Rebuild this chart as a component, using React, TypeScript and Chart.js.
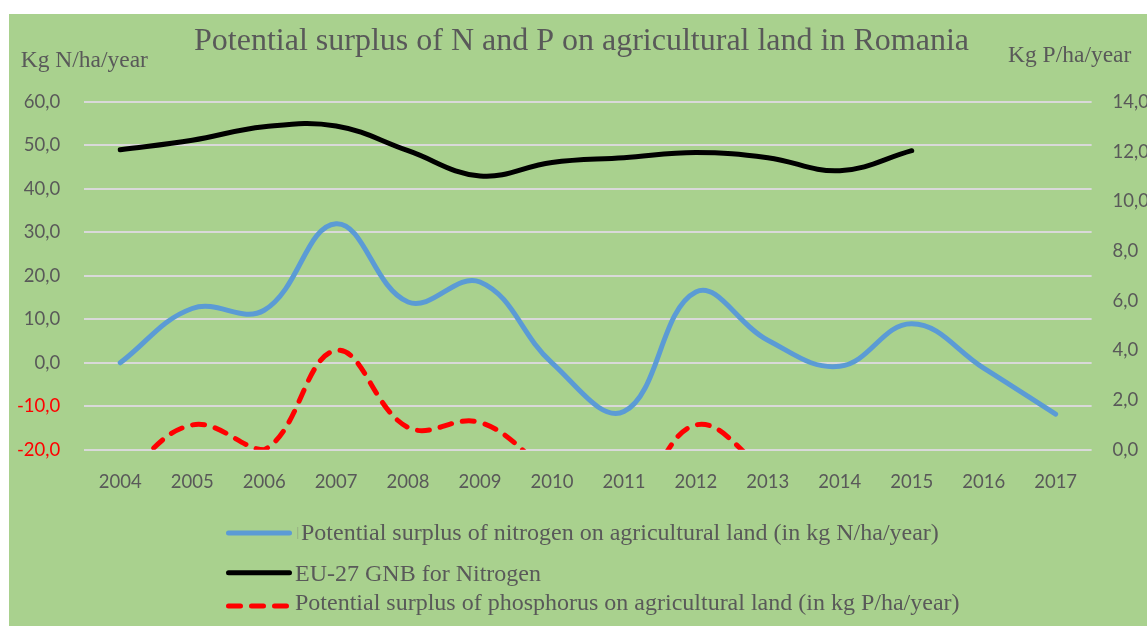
import React, { useEffect, useRef } from "react";
import { Chart, registerables } from "chart.js";

Chart.register(...registerables);

const years = ["2004", "2005", "2006", "2007", "2008", "2009", "2010", "2011", "2012", "2013", "2014", "2015", "2016", "2017"];
const nitrogenSurplus = [0, 12.5, 12.1, 32.0, 14.0, 18.6, 0, -11.2, 16.3, 5.2, -0.8, 9.0, -1.2, -11.8];
const euGnbNitrogen = [49.0, 51.2, 54.3, 54.5, 48.8, 43.0, 46.1, 47.2, 48.4, 47.2, 44.2, 48.8, null, null];
const phosphorusSurplus = [-1.2, 1.0, 0.0, 4.0, 0.9, 1.1, -0.9, -2.2, 1.0, -0.9, null, null, null, null];

const titleText = "Potential surplus of N and P on agricultural land in Romania";
const leftAxisTitle = "Kg N/ha/year";
const rightAxisTitle = "Kg P/ha/year";
const seriesNames = [
  "Potential surplus of nitrogen on agricultural land (in kg N/ha/year)",
  "EU-27 GNB for Nitrogen",
  "Potential surplus of phosphorus on agricultural land (in kg P/ha/year)",
];

const TEXT = "#595959";
const BG = "#a9d18e";
const BLUE = "#5b9bd5";
const SERIF = "'Liberation Serif', 'Times New Roman', serif";
const SANS = "Lato, 'Open Sans', sans-serif";

const fmt = (v: number | string) => Number(v).toFixed(1).replace(".", ",");

export default function App() {
  const ref = useRef<HTMLCanvasElement>(null);

  useEffect(() => {
    if (!ref.current) return;
    const chart = new Chart(ref.current, {
      type: "line",
      data: {
        labels: years,
        datasets: [
          {
            label: seriesNames[0],
            data: nitrogenSurplus,
            borderColor: BLUE,
            backgroundColor: BLUE,
            borderWidth: 5,
            tension: 0.4,
            pointRadius: 0,
            borderCapStyle: "round",
            borderJoinStyle: "round",
            yAxisID: "yN",
            clip: 0,
          },
          {
            label: seriesNames[1],
            data: euGnbNitrogen,
            borderColor: "#000000",
            backgroundColor: "#000000",
            borderWidth: 5,
            tension: 0.4,
            pointRadius: 0,
            borderCapStyle: "round",
            borderJoinStyle: "round",
            yAxisID: "yN",
            clip: 0,
          },
          {
            label: seriesNames[2],
            data: phosphorusSurplus,
            borderColor: "#ff0000",
            backgroundColor: "#ff0000",
            borderWidth: 5,
            borderDash: [12, 11],
            tension: 0.4,
            pointRadius: 0,
            borderCapStyle: "round",
            borderJoinStyle: "round",
            yAxisID: "yP",
            clip: 0,
          },
        ],
      } as any,
      options: {
        animation: false,
        responsive: true,
        maintainAspectRatio: false,
        layout: { padding: { left: 0, right: 0, top: 0, bottom: 112 } },
        plugins: {
          legend: { display: false },
          tooltip: { enabled: false },
          title: {
            display: true,
            text: titleText,
            color: TEXT,
            font: { family: SERIF, size: 32, weight: "normal" as any },
            padding: { top: 8, bottom: 41.6 },
          },
        },
        scales: {
          x: {
            offset: true,
            grid: { display: false, drawTicks: false },
            border: { display: false },
            ticks: { color: TEXT, font: { family: SANS, size: 18.5 }, padding: 21 },
          },
          yN: {
            position: "left",
            min: -20,
            max: 60,
            ticks: {
              stepSize: 10,
              padding: 8,
              color: (c: any) => (c.tick && c.tick.value < 0 ? "#ff0000" : TEXT),
              callback: (v: any) => fmt(v),
              font: { family: SANS, size: 18.5 },
            },
            grid: { color: "#d9d9d9", lineWidth: 2, drawTicks: true, tickLength: 16, tickColor: "rgba(0,0,0,0)" },
            border: { display: false },
          },
          yP: {
            position: "right",
            min: 0,
            max: 14,
            ticks: {
              stepSize: 2,
              padding: 5,
              color: TEXT,
              callback: (v: any) => fmt(v),
              font: { family: SANS, size: 18.5 },
            },
            grid: { drawOnChartArea: false, drawTicks: true, tickLength: 16, tickColor: "rgba(0,0,0,0)" },
            border: { display: false },
          },
        },
      } as any,
    });
    return () => chart.destroy();
  }, []);

  const legendText: React.CSSProperties = {
    position: "absolute",
    fontFamily: SERIF,
    fontSize: 24,
    lineHeight: "24px",
    color: TEXT,
    whiteSpace: "nowrap",
  };
  const axisTitle: React.CSSProperties = {
    position: "absolute",
    fontFamily: SERIF,
    fontSize: 23.5,
    lineHeight: "23.5px",
    color: TEXT,
    whiteSpace: "nowrap",
  };

  return (
    <div
      style={{
        position: "fixed",
        left: 9,
        top: 14,
        width: 1138,
        height: 612,
        overflow: "hidden",
        background: BG,
      }}
    >
      <div style={{ position: "absolute", left: 0, top: 0, width: 1145, height: 612 }}>
        <canvas ref={ref} />
      </div>

      <span style={{ ...axisTitle, left: 11.7, top: 34.3 }}>{leftAxisTitle}</span>
      <span style={{ ...axisTitle, left: 999, top: 29 }}>{rightAxisTitle}</span>

      <svg
        width={120}
        height={100}
        style={{ position: "absolute", left: 200, top: 505 }}
      >
        <line x1={19.5} y1={14} x2={80.5} y2={14} stroke={BLUE} strokeWidth={5} strokeLinecap="round" />
        <line x1={19.5} y1={53.7} x2={80.5} y2={53.7} stroke="#000" strokeWidth={5} strokeLinecap="round" />
        <line
          x1={19.5}
          y1={87}
          x2={80.5}
          y2={87}
          stroke="#ff0000"
          strokeWidth={5}
          strokeLinecap="round"
          strokeDasharray="12 11"
        />
      </svg>

      <span style={{ ...legendText, left: 287.5, top: 511, fontSize: 13, lineHeight: "13px", color: "#8e9e7e" }}>|</span>
      <span style={{ ...legendText, left: 292, top: 505.9 }}>{seriesNames[0]}</span>
      <span style={{ ...legendText, left: 286, top: 546.6 }}>{seriesNames[1]}</span>
      <span style={{ ...legendText, left: 286, top: 576 }}>{seriesNames[2]}</span>
    </div>
  );
}
